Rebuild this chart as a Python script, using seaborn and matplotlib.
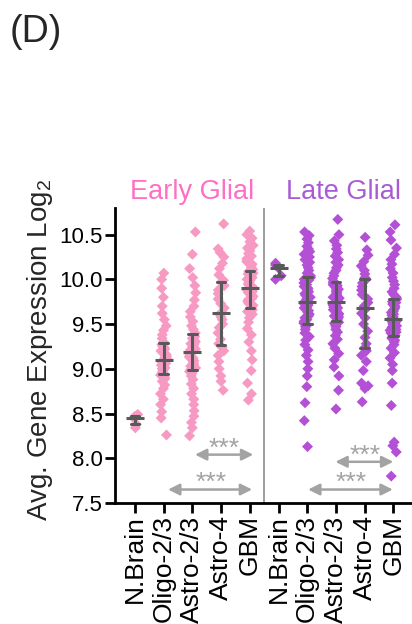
import numpy as np
import pandas as pd
import matplotlib
matplotlib.use("Agg")
import matplotlib.pyplot as plt
import seaborn as sns

# tick labels (same five groups on each side)
groups = ["N.Brain", "Oligo-2/3", "Astro-2/3", "Astro-4", "GBM"]

# values (avg. gene expression, log2)
early_nbrain = [8.34, 8.38, 8.45, 8.47, 8.49]
early_oligo = [8.26, 8.45, 8.52, 8.60, 8.66, 8.72, 8.78, 8.82, 8.86, 8.89, 8.91, 8.93,
               8.94, 8.96, 8.98, 9.00, 9.01, 9.03, 9.04, 9.05, 9.06, 9.07, 9.08, 9.09,
               9.10, 9.11, 9.13, 9.14, 9.16, 9.18, 9.20, 9.22, 9.24, 9.25, 9.27, 9.28,
               9.30, 9.34, 9.38, 9.43, 9.48, 9.55, 9.62, 9.70, 9.80, 9.90, 10.00, 10.07]
early_astro23 = [8.25, 8.34, 8.40, 8.47, 8.53, 8.60, 8.66, 8.72, 8.78, 8.83, 8.88, 8.92, 8.95, 8.97,
                 8.99, 9.01, 9.03, 9.05, 9.07, 9.09, 9.10, 9.12, 9.13, 9.14, 9.15, 9.16, 9.17, 9.18,
                 9.20, 9.21, 9.22, 9.24, 9.25, 9.27, 9.28, 9.30, 9.31, 9.33, 9.34, 9.36, 9.37, 9.38,
                 9.40, 9.44, 9.48, 9.53, 9.58, 9.64, 9.70, 9.77, 9.85, 9.93, 10.02, 10.12, 10.28, 10.53]
early_astro4 = [8.76, 8.86, 8.92, 9.00, 9.08, 9.15, 9.20, 9.24,
                9.28, 9.33, 9.40, 9.46, 9.50, 9.55, 9.58, 9.61,
                9.63, 9.68, 9.73, 9.78, 9.84, 9.88, 9.93, 9.97,
                9.99, 10.05, 10.12, 10.18, 10.25, 10.30, 10.34, 10.62]
early_gbm = [8.65, 8.72, 8.84, 8.98, 9.10, 9.20, 9.30, 9.38, 9.45, 9.52, 9.57, 9.61, 9.64, 9.66,
             9.69, 9.71, 9.73, 9.75, 9.77, 9.79, 9.81, 9.83, 9.84, 9.85, 9.86, 9.87, 9.88, 9.89,
             9.91, 9.92, 9.94, 9.95, 9.97, 9.99, 10.00, 10.02, 10.03, 10.05, 10.06, 10.07, 10.08, 10.09,
             10.11, 10.14, 10.17, 10.20, 10.23, 10.26, 10.29, 10.32, 10.35, 10.38, 10.42, 10.46, 10.50, 10.54]

late_nbrain = [10.00, 10.04, 10.13, 10.16, 10.18]
late_oligo = [8.13, 8.42, 8.62, 8.80, 8.92, 9.00, 9.08, 9.15, 9.21, 9.27, 9.32, 9.36, 9.40, 9.44, 9.47, 9.49,
              9.51, 9.53, 9.55, 9.57, 9.59, 9.61, 9.63, 9.65, 9.66, 9.68, 9.69, 9.70, 9.71, 9.72, 9.73, 9.74,
              9.76, 9.78, 9.80, 9.82, 9.84, 9.86, 9.88, 9.90, 9.92, 9.94, 9.96, 9.97, 9.99, 10.00, 10.01, 10.02,
              10.04, 10.07, 10.10, 10.13, 10.16, 10.19, 10.22, 10.25, 10.28, 10.31, 10.34, 10.37, 10.41, 10.45, 10.49, 10.53]
late_astro23 = [8.55, 8.76, 8.92, 9.02, 9.10, 9.17, 9.23, 9.28, 9.33, 9.37, 9.41, 9.44, 9.47, 9.49, 9.51, 9.52,
                9.54, 9.56, 9.58, 9.59, 9.61, 9.62, 9.64, 9.65, 9.66, 9.68, 9.69, 9.70, 9.71, 9.72, 9.73, 9.74,
                9.76, 9.77, 9.79, 9.80, 9.82, 9.83, 9.85, 9.86, 9.88, 9.89, 9.91, 9.92, 9.93, 9.94, 9.95, 9.96,
                9.98, 10.01, 10.04, 10.07, 10.10, 10.13, 10.16, 10.19, 10.22, 10.26, 10.30, 10.34, 10.38, 10.43, 10.50, 10.67]
late_astro4 = [8.63, 8.78, 8.81, 8.84, 8.98, 9.08, 9.15, 9.20,
               9.24, 9.28, 9.35, 9.42, 9.50, 9.57, 9.62, 9.66,
               9.70, 9.74, 9.78, 9.83, 9.88, 9.92, 9.96, 10.00,
               10.02, 10.06, 10.10, 10.15, 10.20, 10.27, 10.33, 10.47]
late_gbm = [7.80, 8.07, 8.14, 8.18, 8.59, 8.84, 8.98, 9.05, 9.12, 9.18, 9.23, 9.27, 9.30, 9.32, 9.34, 9.35,
            9.37, 9.38, 9.40, 9.41, 9.43, 9.44, 9.46, 9.47, 9.48, 9.50, 9.51, 9.52, 9.53, 9.54, 9.55, 9.55,
            9.57, 9.58, 9.60, 9.61, 9.63, 9.64, 9.66, 9.67, 9.69, 9.70, 9.72, 9.73, 9.74, 9.75, 9.77, 9.78,
            9.80, 9.83, 9.86, 9.90, 9.94, 9.98, 10.02, 10.07, 10.12, 10.17, 10.22, 10.28, 10.35, 10.44, 10.53, 10.61]

early = [early_nbrain, early_oligo, early_astro23, early_astro4, early_gbm]
late = [late_nbrain, late_oligo, late_astro23, late_astro4, late_gbm]

pink = "#F79AC3"
purple = "#B450D6"
grey_bar = "#595959"
grey_sig = "#A3A3A3"

# long table, one key per column of points
rows = []
for name, vals in zip(groups, early):
    rows += [("Early " + name, v) for v in vals]
for name, vals in zip(groups, late):
    rows += [("Late " + name, v) for v in vals]
df = pd.DataFrame(rows, columns=["group", "expr"])
order = ["Early " + g for g in groups] + ["Late " + g for g in groups]
palette = {k: (pink if k.startswith("Early") else purple) for k in order}

sns.set_style("ticks")
plt.rcParams["font.family"] = ["Liberation Sans", "DejaVu Sans"]
plt.rcParams["mathtext.default"] = "regular"

fig = plt.figure(figsize=(4.12, 6.24), dpi=100)
ax = fig.add_axes([0.279, 0.194, 0.721, 0.473])

np.random.seed(3)
sns.stripplot(data=df, x="group", y="expr", hue="group", order=order, palette=palette,
              marker="D", size=5.6, jitter=0.12, linewidth=0, legend=False, ax=ax, zorder=2)

# median with interquartile range
sns.pointplot(data=df, x="group", y="expr", order=order, estimator="median",
              errorbar=("pi", 50), color=grey_bar, marker="_", markersize=13,
              markeredgewidth=2.2, linestyle="none", capsize=0.3,
              err_kws={"linewidth": 2.2, "zorder": 4}, zorder=5, ax=ax)

ax.axvline(4.5, color="#8C8C8C", lw=1.2, zorder=1)

# significance brackets
sig = [(1.15, 4.08, 7.65, 2.64, 7.72),
       (2.09, 4.12, 8.04, 3.10, 8.11),
       (6.03, 8.98, 7.65, 7.52, 7.73),
       (6.98, 9.00, 7.96, 8.00, 8.03)]
for x0, x1, y, xs, ys in sig:
    ax.annotate("", xy=(x1, y), xytext=(x0, y),
                arrowprops=dict(arrowstyle="<|-|>", color=grey_sig, lw=1.8,
                                mutation_scale=17, shrinkA=0, shrinkB=0))
    ax.text(xs, ys, "***", color=grey_sig, fontsize=19, ha="center", va="center")

ax.text(2.0, 10.9, "Early Glial", color="#FF6EC4", fontsize=19.5, ha="center",
        va="baseline", clip_on=False)
ax.text(7.25, 10.9, "Late Glial", color="#A95BD6", fontsize=19.5, ha="center",
        va="baseline", clip_on=False)

ax.set_xlim(-0.7, 9.65)
ax.set_ylim(7.5, 10.8)
ax.set_yticks([7.5, 8.0, 8.5, 9.0, 9.5, 10.0, 10.5])
ax.set_yticklabels(["7.5", "8.0", "8.5", "9.0", "9.5", "10.0", "10.5"])
ax.set_xticks(range(len(order)))
ax.set_xticklabels(groups + groups, rotation=90)
ax.tick_params(axis="both", width=2, length=7, color="black",
               labelcolor="black", pad=2)
ax.tick_params(axis="y", labelsize=16)
ax.tick_params(axis="x", labelsize=19)
ax.set_xlabel("")
ax.set_ylabel("Avg. Gene Expression Log$_2$", fontsize=20)
ax.yaxis.set_label_coords(-0.202, 0.519)
for s in ["left", "bottom"]:
    ax.spines[s].set_linewidth(2)
    ax.spines[s].set_color("black")
sns.despine(ax=ax)

fig.text(0.024, 0.978, "(D)", fontsize=27, va="top", ha="left")

fig.savefig("out.png", dpi=100)
